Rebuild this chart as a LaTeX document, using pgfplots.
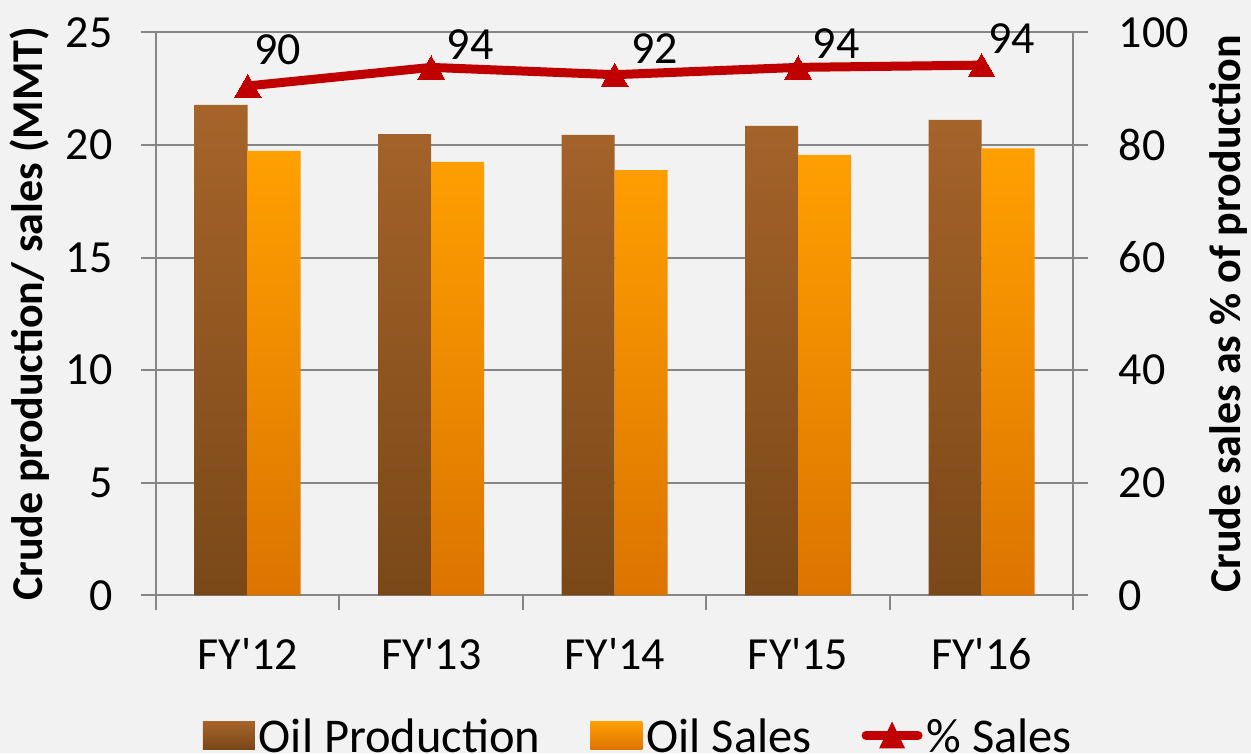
\documentclass[border=0pt]{standalone}
\usepackage{fontspec}
\setmainfont{Carlito}
\usepackage{pgfplots}
\usepackage{pgfplotstable}
\pgfplotsset{compat=1.18}
\definecolor{bgc}{HTML}{F2F2F2}
\definecolor{gridc}{HTML}{868686}
\definecolor{prodtop}{HTML}{A6642A}
\definecolor{prodbot}{HTML}{7A4818}
\definecolor{salestop}{HTML}{FFA000}
\definecolor{salesbot}{HTML}{DC7400}
\definecolor{linec}{HTML}{C00000}
\newcommand\tfont{\fontsize{46}{55}\selectfont}
\newcommand\legfont{\fontsize{48.5}{58}\selectfont}
\newcommand\lfont{\bfseries\fontsize{44}{52}\selectfont}
\pgfplotstableread{
x prod sales pct lab dx dy
0 21.78 19.74 90.5 90 30 40.5
1 20.49 19.25 93.8 94 39 27
2 20.45 18.89 92.5 92 40 30
3 20.85 19.56 93.8 94 38 27.5
4 21.12 19.85 94.2 94 30 31
}\datatable
\pgfplotsset{
  common/.style={
    scale only axis, width=917.3pt, height=562.8pt,
    xmin=-0.5, xmax=4.5,
    axis line style={gridc, line width=2pt, -},
    tick align=outside, major tick length=15pt,
    tick style={gridc, line width=2pt},
    tick label style={font=\tfont, text=black},
    /pgf/number format/assume math mode=true,
  }
}
\begin{document}
\begin{tikzpicture}
\path[use as bounding box, fill=bgc] (-156pt,-157.7pt) rectangle (1095pt,595.3pt);
\begin{axis}[common,
  ymin=0, ymax=25,
  axis x line*=bottom, axis y line*=left,
  xtick={-0.5,0.5,1.5,2.5,3.5,4.5},
  xticklabels={FY\textquotesingle12,FY\textquotesingle13,FY\textquotesingle14,FY\textquotesingle15,FY\textquotesingle16},
  x tick label as interval,
  xticklabel style={yshift=-25pt},
  yticklabel style={xshift=-25pt},
  ytick={0,5,10,15,20,25},
  ymajorgrids, grid style={gridc, line width=2pt},
  ylabel={Crude production/ sales (MMT)},
  ylabel style={font=\lfont, at={(axis description cs:-0.1374,0.5)}, anchor=center},
]
\addplot[ybar, bar width=53pt, bar shift=-26.5pt, draw=none, top color=prodtop, bottom color=prodbot] table[x=x, y=prod]{\datatable};
\addplot[ybar, bar width=53pt, bar shift=26.5pt, draw=none, top color=salestop, bottom color=salesbot] table[x=x, y=sales]{\datatable};
\end{axis}
\begin{axis}[common,
  ymin=0, ymax=100,
  axis y line*=right, axis x line=none,
  ytick={0,20,40,60,80,100},
  yticklabel style={xshift=27pt},
  ylabel={Crude sales as \% of production},
  ylabel style={font=\lfont, at={(axis description cs:1.1687,0.5)}, anchor=center},
  legend columns=3,
  legend style={at={(axis description cs:0.527,-0.212)}, anchor=north, draw=none, fill=none, font=\legfont,
    nodes={inner xsep=4pt, inner ysep=2pt},
    /tikz/every even column/.append style={column sep=46pt}},
  legend cell align=left,
]
\addlegendimage{legend image code/.code={\path[draw=none, top color=prodtop, bottom color=prodbot] (0pt,-13pt) rectangle (52pt,15pt);}}
\addlegendentry{Oil Production}
\addlegendimage{legend image code/.code={\path[draw=none, top color=salestop, bottom color=salesbot] (0pt,-13pt) rectangle (52pt,15pt);}}
\addlegendentry{Oil Sales}
\addplot[color=linec, line width=9pt, mark=triangle*, mark size=15.5pt,
  mark options={solid, fill=linec, line width=0pt, yshift=-4pt},
  legend image code/.code={\draw[linec, line width=9pt, line cap=round] (4.5pt,1pt) -- (56.5pt,1pt);
     \path[draw=none, fill=linec] (30.5pt,1pt) ++(0pt,14pt) -- ++(13pt,-27pt) -- ++(-26pt,0pt) -- cycle;},
  nodes near coords, point meta=explicit symbolic,
  visualization depends on={\thisrow{dx} \as \dx},
  visualization depends on={\thisrow{dy} \as \dy},
  every node near coord/.append style={anchor=center, xshift=\dx pt, yshift=\dy pt, font=\tfont, text=black},
] table[x=x, y=pct, meta=lab]{\datatable};
\addlegendentry{\% Sales}
\end{axis}
\end{tikzpicture}
\end{document}
